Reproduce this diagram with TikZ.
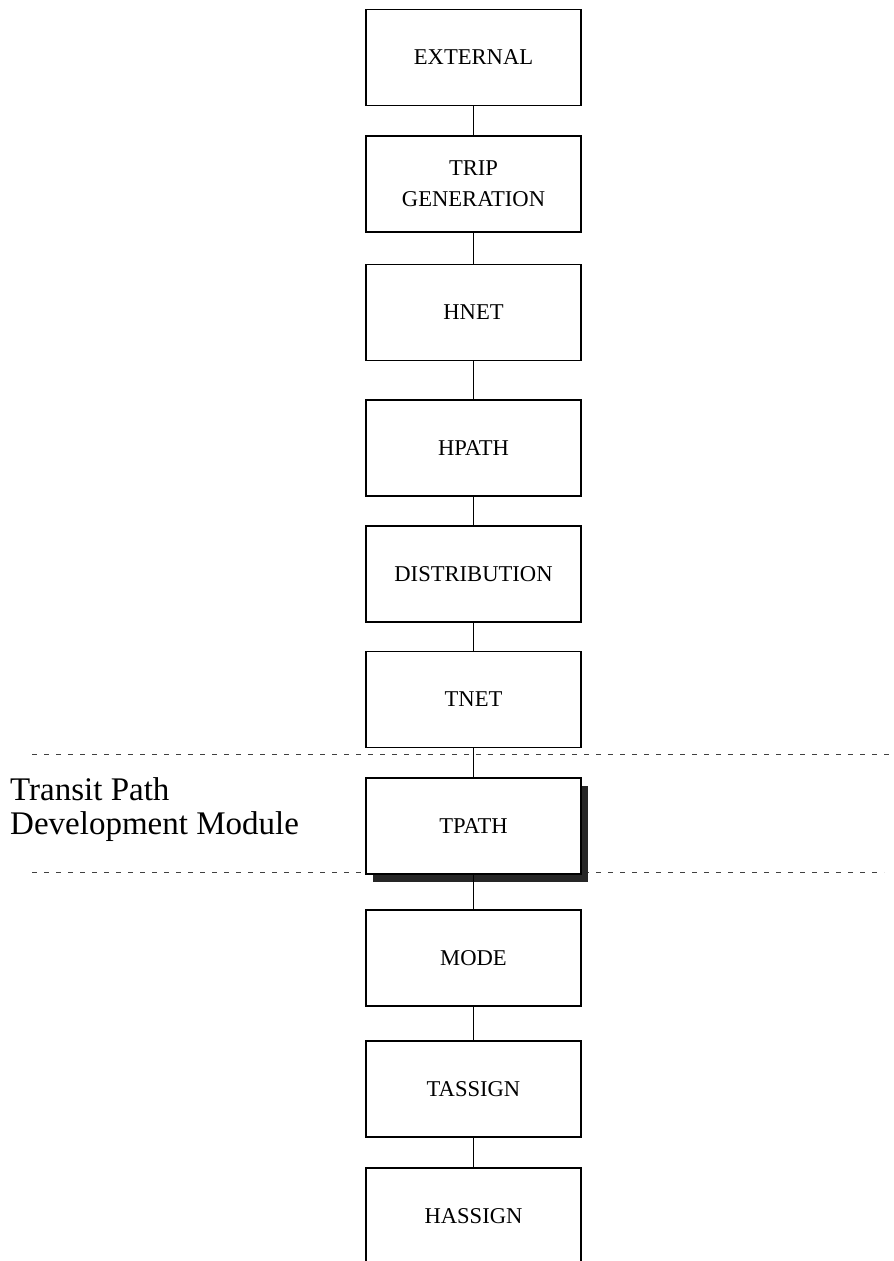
\documentclass[tikz,border=0pt]{standalone}
\usepackage{fontspec}
\setmainfont{Liberation Serif}
\usetikzlibrary{shadows}

\tikzset{
  stage/.style={draw, line width=1.3pt, fill=white, minimum width=215pt, minimum height=96pt,
    inner sep=0pt, align=center, font=\fontsize{22.6}{31}\selectfont},
  link/.style={line width=0.9pt},
  modline/.style={dash pattern=on 5pt off 7pt, line width=0.9pt, black!75},
}

\begin{document}
\begin{tikzpicture}[x=1pt,y=1pt]
\useasboundingbox (0,0) rectangle (894,-1261);

% module boundaries
\coordinate (ml1) at (32,-754);
\coordinate (mr1) at (890,-754);
\coordinate (ml2) at (32,-872);
\coordinate (mr2) at (884,-872);
\draw[modline] (ml1) -- (mr1);
\draw[modline] (ml2) -- (mr2);

\node[anchor=west, inner sep=0pt, align=left, font=\fontsize{33}{34}\selectfont] (modlabel) at (10,-809.5)
  {Transit Path\\Development Module};

% model steps
\node[stage] (ext) at (473.5,-57.5) {EXTERNAL};
\node[stage] (trip) at (473.5,-184) {TRIP\\GENERATION};
\node[stage] (hnet) at (473.5,-312.5) {HNET};
\node[stage] (hpath) at (473.5,-448) {HPATH};
\node[stage] (dist) at (473.5,-574) {DISTRIBUTION};
\node[stage] (tnet) at (473.5,-699.5) {TNET};
\node[stage, drop shadow={shadow xshift=7pt, shadow yshift=-8pt, fill=black!85, opacity=1}] (tpath) at (473.5,-826) {TPATH};
\node[stage] (mode) at (473.5,-958) {MODE};
\node[stage] (tassign) at (473.5,-1089) {TASSIGN};
\node[stage] (hassign) at (473.5,-1216) {HASSIGN};

\draw[link] (ext) -- (trip);
\draw[link] (trip) -- (hnet);
\draw[link] (hnet) -- (hpath);
\draw[link] (hpath) -- (dist);
\draw[link] (dist) -- (tnet);
\draw[link] (tnet) -- (tpath);
\draw[link] (tpath) -- (mode);
\draw[link] (mode) -- (tassign);
\draw[link] (tassign) -- (hassign);
\end{tikzpicture}
\end{document}
